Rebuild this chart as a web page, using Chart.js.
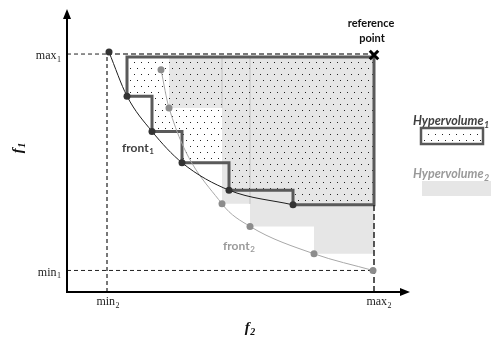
<!DOCTYPE html>
<html><head><meta charset="utf-8">
<script src="https://cdn.jsdelivr.net/npm/chart.js@4"></script>
<style>html,body{margin:0;padding:0;background:#fff;overflow:hidden}</style>
</head><body>
<canvas id="c" width="491" height="341"></canvas>
<script>
// ---- data (f2 on x, f1 on y; arbitrary units) ----
const front1X = [42, 60, 85, 115, 162, 226];
const front1Y = [245, 200, 164, 132, 104, 89];
const front2X = [94, 102, 155, 183, 247, 306];
const front2Y = [227, 188, 90, 67, 39, 22];
const referencePoint = [307, 242];
const hvTop = 240;
const f2Ticks = [40, 307];
const f2TickLabels = [['min', '2'], ['max', '2']];
const f1Ticks = [22, 243];
const f1TickLabels = [['min', '1'], ['max', '1']];
const axisTitles = [['f', '1'], ['f', '2']];
const frontLabels = [['front', '1'], ['front', '2']];
const refLabel = ['reference', 'point'];
const legendLabels = [['Hypervolume', '1'], ['Hypervolume', '2']];

// ---- helpers ----
function pts(xs, ys) { return xs.map((x, i) => ({ x: x, y: ys[i] })); }
function stair(xs, ys, i0, i1, right, top) {
  const p = [{ x: xs[i0], y: top }];
  for (let i = i0; i <= i1; i++) {
    p.push({ x: xs[i], y: ys[i] });
    p.push({ x: i < i1 ? xs[i + 1] : right, y: ys[i] });
  }
  p.push({ x: right, y: top });
  p.push({ x: xs[i0], y: top });
  p.push({ x: xs[i0], y: ys[i0] });
  return p;
}
function dotPattern(ctx) {
  const c = document.createElement('canvas');
  c.width = 7; c.height = 12;
  const g = c.getContext('2d');
  g.fillStyle = '#222';
  g.fillRect(1, 2, 1, 1);
  g.fillRect(4, 8, 1, 1);
  return ctx.createPattern(c, 'repeat');
}
const ctx = document.getElementById('c').getContext('2d');
const dots = dotPattern(ctx);

const serif = '"Liberation Serif", "DejaVu Serif", serif';
const sans = 'Lato, "Open Sans", sans-serif';

function subText(c, parts, x, y, size, style, family, color, align) {
  c.save();
  c.fillStyle = color;
  c.textBaseline = 'middle';
  c.textAlign = 'left';
  c.font = style + ' ' + size + 'px ' + family;
  const w1 = c.measureText(parts[0]).width;
  const ss = Math.round(size * 0.68);
  c.font = style + ' ' + ss + 'px ' + family;
  const w2 = c.measureText(parts[1]).width;
  const tot = w1 + w2 + 0.5;
  let sx = x;
  if (align === 'center') sx = x - tot / 2;
  else if (align === 'right') sx = x - tot;
  c.font = style + ' ' + size + 'px ' + family;
  c.fillText(parts[0], sx, y);
  c.font = style + ' ' + ss + 'px ' + family;
  c.fillText(parts[1], sx + w1 + 0.5, y + size * 0.3);
  c.restore();
}

const refX = referencePoint[0];
const hv1 = stair(front1X, front1Y, 1, 5, refX, hvTop);
const hv2 = stair(front2X, front2Y, 1, 4, refX, hvTop);

const decorPlugin = {
  id: 'decor',
  afterDatasetsDraw(chart) {
    const c = chart.ctx;
    const xs = chart.scales.x, ys = chart.scales.y;
    const a = chart.chartArea;
    const ox = xs.getPixelForValue(0), oy = ys.getPixelForValue(0);
    // axes with arrows
    c.save();
    c.strokeStyle = '#000'; c.fillStyle = '#000'; c.lineWidth = 2;
    c.beginPath(); c.moveTo(ox - 1, oy); c.lineTo(a.right - 6, oy); c.stroke();
    c.beginPath(); c.moveTo(ox, oy + 1); c.lineTo(ox, a.top + 6); c.stroke();
    c.beginPath(); c.moveTo(a.right, oy); c.lineTo(a.right - 10, oy - 4); c.lineTo(a.right - 10, oy + 4); c.closePath(); c.fill();
    c.beginPath(); c.moveTo(ox, a.top); c.lineTo(ox - 4, a.top + 10); c.lineTo(ox + 4, a.top + 10); c.closePath(); c.fill();
    c.restore();
    // tick labels
    f1Ticks.forEach((v, i) => subText(c, f1TickLabels[i], ox - 6, ys.getPixelForValue(v) + 2, 12, 'normal', serif, '#222', 'right'));
    f2Ticks.forEach((v, i) => subText(c, f2TickLabels[i], xs.getPixelForValue(v) + (i ? 5 : 1), oy + 10, 12, 'normal', serif, '#222', 'center'));
    // axis titles
    c.save();
    c.translate(18, ys.getPixelForValue(147));
    c.rotate(-Math.PI / 2);
    subText(c, axisTitles[0], 0, 0, 15, 'italic bold', serif, '#111', 'center');
    c.restore();
    subText(c, axisTitles[1], xs.getPixelForValue(183), oy + 36, 15, 'italic bold', serif, '#111', 'center');
    // reference point label
    c.save();
    c.fillStyle = '#111'; c.font = 'bold 11px ' + sans; c.textAlign = 'center'; c.textBaseline = 'middle';
    const rx = xs.getPixelForValue(refX) - 3;
    c.fillText(refLabel[0], rx, 23);
    c.fillText(refLabel[1], rx + 1, 38);
    c.restore();
    // front labels
    subText(c, frontLabels[0], xs.getPixelForValue(55), ys.getPixelForValue(147), 12, 'bold', sans, '#404040', 'left');
    subText(c, frontLabels[1], xs.getPixelForValue(156), ys.getPixelForValue(47), 12, 'bold', sans, '#9a9a9a', 'left');
    // legend
    const lx = a.right + 3;
    subText(c, legendLabels[0], lx, 121, 12.5, 'italic bold', sans, '#404040', 'left');
    c.save();
    c.fillStyle = '#fff'; c.fillRect(lx + 8, 128, 62, 16);
    c.fillStyle = dots; c.fillRect(lx + 8, 128, 62, 16);
    c.strokeStyle = '#595959'; c.lineWidth = 2.5; c.strokeRect(lx + 8, 128, 62, 16);
    c.fillStyle = '#e6e6e6'; c.fillRect(lx + 9, 181, 70, 15);
    c.restore();
    subText(c, legendLabels[1], lx, 174, 12.5, 'italic bold', sans, '#9a9a9a', 'left');
  }
};

const dashed = (data, color, width, dash, order) => ({
  data: data, showLine: true, borderColor: color, borderWidth: width, borderDash: dash,
  pointRadius: 0, fill: false, order: order
});

new Chart(ctx, {
  type: 'scatter',
  data: {
    datasets: [
      { data: hv2, showLine: true, fill: 'shape', backgroundColor: '#e6e6e6', borderWidth: 0, borderColor: 'rgba(0,0,0,0)', pointRadius: 0, order: 20 },
      dashed([{ x: front2X[2], y: hvTop }, { x: front2X[2], y: front2Y[1] }], '#d2d2d2', 1, [], 19),
      dashed([{ x: front2X[3], y: hvTop }, { x: front2X[3], y: front2Y[2] }], '#d2d2d2', 1, [], 19),
      { data: hv1, showLine: true, fill: 'shape', backgroundColor: dots, borderColor: '#5a5a5a', borderWidth: 3, borderJoinStyle: 'miter', pointRadius: 0, order: 18 },
      dashed([{ x: 0, y: f1Ticks[1] }, { x: f2Ticks[0], y: f1Ticks[1] }], '#222', 1, [4, 3], 15),
      dashed([{ x: f2Ticks[0], y: f1Ticks[1] }, { x: refX, y: f1Ticks[1] }], '#7a7a7a', 2, [5, 3], 15),
      dashed([{ x: f2Ticks[0], y: 0 }, { x: f2Ticks[0], y: f1Ticks[1] }], '#777', 2, [4, 3], 15),
      dashed([{ x: 0, y: f1Ticks[0] }, { x: f2Ticks[1], y: f1Ticks[0] }], '#222', 1, [4, 3], 15),
      dashed([{ x: f2Ticks[1], y: 0 }, { x: f2Ticks[1], y: front1Y[5] }], '#222', 1.5, [6, 3], 15),
      { data: pts(front2X, front2Y), showLine: true, cubicInterpolationMode: 'monotone', borderColor: '#a8a8a8', borderWidth: 1, pointRadius: 3.5, pointBackgroundColor: '#8c8c8c', pointBorderWidth: 0, fill: false, order: 10 },
      { data: pts(front1X, front1Y), showLine: true, cubicInterpolationMode: 'monotone', borderColor: '#1e1e1e', borderWidth: 1, pointRadius: 3.5, pointBackgroundColor: '#333', pointBorderWidth: 0, fill: false, order: 5 },
      { data: [{ x: referencePoint[0], y: referencePoint[1] }], pointStyle: 'crossRot', pointRadius: 6, borderColor: '#000', pointBorderWidth: 3, order: 1 }
    ]
  },
  options: {
    responsive: false,
    animation: false,
    events: [],
    layout: { padding: { left: 67, right: 81, top: 3, bottom: 49 } },
    scales: {
      x: { type: 'linear', min: 0, max: 343, display: false },
      y: { type: 'linear', min: 0, max: 289, display: false }
    },
    plugins: { legend: { display: false }, tooltip: { enabled: false } }
  },
  plugins: [decorPlugin]
});
</script>
</body></html>
